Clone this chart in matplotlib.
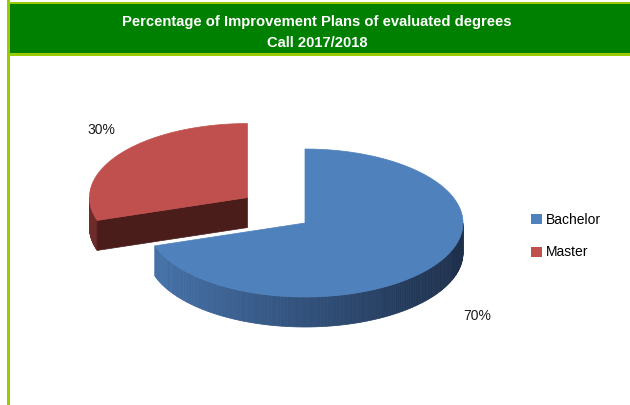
import numpy as np
import matplotlib.pyplot as plt
from matplotlib.patches import Polygon, Rectangle, Patch
from matplotlib.colors import to_rgb

# data
categories = ['Bachelor', 'Master']
shares = [70, 30]
explode = [0.0, 0.45]
top_colors = ['#4f81bd', '#c0504d']
side_light = ['#4673ab', '#6e2c29']
side_dark = ['#1d2f4b', '#4a1c1a']
title_lines = ['Percentage of Improvement Plans of evaluated degrees', 'Call 2017/2018']

# pie geometry, in pixels of the figure
CX, CY = 305, 223
RX, RY = 158, 74
DEPTH = 30
Y_BOOST = 1.3  # fake perspective on the explode offset

fig = plt.figure(figsize=(6.3, 4.05), dpi=100)
ax = fig.add_axes([0, 0, 1, 1])
ax.set_xlim(0, 630)
ax.set_ylim(405, 0)
ax.axis('off')

# frame and title banner
ax.add_patch(Rectangle((9, 3), 625, 51, facecolor='#008000', edgecolor='none'))
ax.add_patch(Rectangle((9, 53), 625, 3, facecolor='#99cc00', edgecolor='none'))
ax.add_patch(Rectangle((7, 0), 3, 405, facecolor='#99cc00', edgecolor='none'))
ax.add_patch(Rectangle((9, 2), 625, 2, facecolor='#99cc00', edgecolor='none'))
for i, line in enumerate(title_lines):
    ax.text(317, 22 + 21 * i, line, color='white', fontsize=10.6, fontweight='bold',
            family='Liberation Sans', ha='center', va='center')


def rim(cx, cy, t):
    t = np.radians(t)
    return cx + RX * np.cos(t), cy - RY * np.sin(t)


def mix(c1, c2, f):
    a, b = np.array(to_rgb(c1)), np.array(to_rgb(c2))
    return tuple(a + (b - a) * f)


total = float(sum(shares))
cum = np.concatenate([[0], np.cumsum(shares)]) / total
slices = []
for i in range(len(shares)):
    a0 = 90 - 360 * cum[i]      # ccw end
    a1 = 90 - 360 * cum[i + 1]  # cw end
    mid = np.radians((a0 + a1) / 2)
    cx = CX + explode[i] * RX * np.cos(mid)
    cy = CY - explode[i] * RY * np.sin(mid) * Y_BOOST
    slices.append((i, a1, a0, cx, cy))

# back slices first
order = sorted(slices, key=lambda s: s[4])
for i, a1, a0, cx, cy in order:
    # outer rim, front half only
    ts = np.linspace(a1, a0, 300)
    for t0, t1 in zip(ts[:-1], ts[1:]):
        tm = np.radians((t0 + t1) / 2)
        if np.sin(tm) >= 0:
            continue
        x0, y0 = rim(cx, cy, t0)
        x1, y1 = rim(cx, cy, t1)
        f = (np.cos(tm) + 1) / 2
        ax.add_patch(Polygon([(x0, y0), (x1, y1), (x1, y1 + DEPTH), (x0, y0 + DEPTH)],
                             closed=True, facecolor=mix(side_light[i], side_dark[i], f),
                             edgecolor=mix(side_light[i], side_dark[i], f), lw=0.5))
    # radial cut faces facing the viewer
    for b, vis in ((a0, np.cos(np.radians(a0)) < -1e-6), (a1, np.cos(np.radians(a1)) > 1e-6)):
        if vis:
            bx, by = rim(cx, cy, b)
            ax.add_patch(Polygon([(cx, cy), (bx, by), (bx, by + DEPTH), (cx, cy + DEPTH)],
                                 closed=True, facecolor=side_dark[i], edgecolor=side_dark[i], lw=0.5))
    # top face
    pts = [(cx, cy)] + [rim(cx, cy, t) for t in np.linspace(a1, a0, 200)]
    ax.add_patch(Polygon(pts, closed=True, facecolor=top_colors[i], edgecolor=top_colors[i], lw=0.5))

# percentage labels
label_pos = {0: (477, 316), 1: (101, 130)}
for i, v in enumerate(shares):
    ax.text(*label_pos[i], f'{v}%', fontsize=10, family='Liberation Sans',
            ha='center', va='center', color='#1a1a1a')

handles = [Patch(facecolor=c, edgecolor='none') for c in top_colors]
ax.legend(handles, categories, loc='center left', bbox_to_anchor=(0.832, 0.417),
          frameon=False, prop={'family': 'Liberation Sans', 'size': 10},
          handlelength=0.75, handleheight=0.75, handletextpad=0.3, labelspacing=1.35,
          borderpad=0)

fig.savefig('out.png', dpi=100)
